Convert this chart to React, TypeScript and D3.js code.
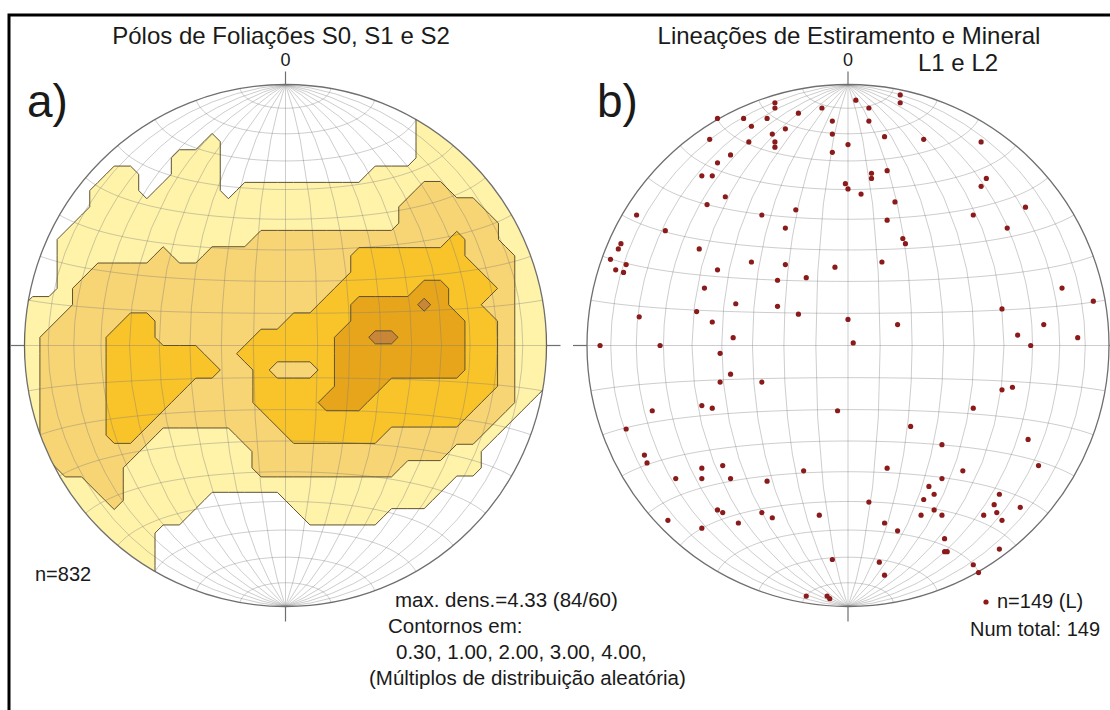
import React from 'react';
import * as d3 from 'd3';

const WIDTH = 1110;
const HEIGHT = 710;
const RADIUS = 261;
const CY = 345.5;
const LEFT_CX = 285.5;
const RIGHT_CX = 848;

// pole density of S0/S1/S2 (multiples of uniform distribution)
// digits index densityLevels
const densityLevels = [0, 0.6, 1.5, 2.5, 3.5, 4.33];
const contourThresholds = [0.3, 1, 2, 3, 4];
const contourColors = ['#fff2a9', '#f7d474', '#f9c32a', '#e7a51b', '#c98637'];
const densityRows = [
  '00000000000000000000000011111111',
  '00000000000000000000000011111111',
  '00000000000000000000000011111111',
  '00000000000100000000000011111111',
  '00000000011100000000000011111111',
  '00000110011100000000011111111111',
  '00001110111101111111111122111111',
  '00001111111111111111111222221111',
  '00011111111111111111111222222111',
  '00111111111111222222222222322111',
  '00111111211222222222333333322211',
  '00112222222222222222333333332211',
  '00122222222222222223333344333211',
  '11122222222222222233444454332211',
  '11222233222222223333444444433211',
  '12222333222222333334455444433211',
  '12222333333223333334444444433211',
  '12222333333322322234444444433211',
  '12222333332222333334443333333211',
  '12222333322222333344433333332210',
  '12222333222222233333333333322100',
  '12222332111112223333332222221000',
  '12222221111111222222222222110000',
  '11222211111111222222222111110000',
  '11112211111111111111111111000000',
  '11111211111000001111111110000000',
  '11111111110000000111110000000000',
  '11111111000000000000000000000000',
  '11111111000000000000000000000000',
  '11111111000000000000000000000000',
  '11111111000000000000000000000000',
  '11111111000000000000000000000000',
];

// lineations L1/L2, position on the net (east, north; unit = net radius)
const lineE = [
  -0.28, -0.28, 0.03, 0.2, 0.2, 0.08, -0.5, -0.4, -0.37, -0.31, -0.19, -0.1, -0.06, 0.08, -0.29, -0.24,
  -0.06, -0.53, -0.38, -0.28, -0.28, 0.14, 0.29, 0.51, 0.0, -0.06, -0.45, -0.5, -0.56, -0.52, 0.09, 0.15,
  0.09, -0.01, 0.0, 0.05, 0.53, 0.51, -0.47, -0.54, 0.18, 0.68, -0.81, -0.33, -0.2, 0.48, 0.15, -0.7,
  -0.24, 0.61, 0.21, 0.22, -0.87, -0.88, -0.57, -0.91, -0.85, -0.89, -0.86, -0.37, -0.24, -0.05, 0.13, -0.5,
  -0.16, -0.27, -0.55, 0.82, -0.43, -0.27, 0.94, -0.8, -0.58, -0.52, -0.19, 0.59, 0.0, 0.19, 0.75, 0.65,
  0.88, -0.44, -0.95, -0.72, 0.02, 0.7, -0.49, -0.45, -0.49, -0.33, 0.59, 0.63, -0.75, -0.56, -0.52, -0.04,
  0.48, -0.85, 0.24, 0.69, 0.36, -0.78, -0.77, -0.56, -0.48, -0.17, 0.15, 0.44, 0.73, -0.66, -0.56, -0.45,
  -0.31, 0.36, 0.31, 0.33, 0.29, 0.08, 0.58, 0.56, 0.66, -0.5, -0.48, -0.33, -0.29, -0.11, 0.33, 0.36,
  0.28, 0.52, 0.57, 0.59, -0.69, -0.56, -0.42, 0.14, 0.19, 0.37, 0.58, -0.06, 0.37, 0.38, 0.12, 0.14,
  0.48, 0.5, -0.16, -0.08, -0.07,
];
const lineN = [
  0.93, 0.91, 0.94, 0.93, 0.96, 0.91, 0.87, 0.87, 0.84, 0.87, 0.89, 0.91, 0.86, 0.86, 0.81, 0.83,
  0.81, 0.79, 0.78, 0.78, 0.76, 0.8, 0.79, 0.78, 0.77, 0.74, 0.73, 0.7, 0.65, 0.65, 0.66, 0.67,
  0.64, 0.62, 0.6, 0.58, 0.64, 0.61, 0.57, 0.54, 0.55, 0.53, 0.5, 0.5, 0.52, 0.5, 0.48, 0.44,
  0.45, 0.45, 0.41, 0.39, 0.39, 0.37, 0.37, 0.33, 0.31, 0.29, 0.28, 0.32, 0.31, 0.3, 0.32, 0.29,
  0.26, 0.25, 0.22, 0.22, 0.16, 0.15, 0.17, 0.11, 0.13, 0.09, 0.12, 0.14, 0.1, 0.08, 0.08, 0.04,
  0.03, 0.03, 0.0, 0.0, 0.01, 0.0, -0.03, -0.11, -0.14, -0.14, -0.17, -0.16, -0.25, -0.23, -0.24, -0.25,
  -0.24, -0.32, -0.31, -0.36, -0.38, -0.42, -0.45, -0.47, -0.46, -0.48, -0.47, -0.48, -0.46, -0.51, -0.51, -0.51,
  -0.52, -0.51, -0.54, -0.57, -0.59, -0.6, -0.57, -0.61, -0.62, -0.63, -0.64, -0.64, -0.66, -0.65, -0.63, -0.65,
  -0.65, -0.65, -0.64, -0.67, -0.67, -0.7, -0.68, -0.68, -0.71, -0.74, -0.78, -0.82, -0.79, -0.79, -0.83, -0.88,
  -0.84, -0.87, -0.96, -0.96, -0.97,
];

const gridStep = 10;
const FONT = '"Liberation Sans", Arial, Helvetica, sans-serif';

function netGrid(cx: number) {
  const projection = d3
    .geoAzimuthalEqualArea()
    .rotate([0, 0])
    .scale(RADIUS / Math.SQRT2)
    .translate([cx, CY]);
  const lons = d3.range(-90 + gridStep, 90, gridStep);
  const lats = d3.range(-90 + gridStep, 90, gridStep);
  const grid: any = {
    type: 'MultiLineString',
    coordinates: [
      ...lons.map((lon) => [[lon, -90], [lon, 0], [lon, 90]]),
      ...lats.map((lat) => d3.range(-90, 90.01, 2).map((lon) => [lon, lat])),
    ],
  };
  return d3.geoPath(projection)(grid) || '';
}

function NetFrame({ cx }: { cx: number }) {
  return (
    <g>
      <path d={netGrid(cx)} fill="none" stroke="#7a7a7a" strokeOpacity={0.42} strokeWidth={0.9} />
      <circle cx={cx} cy={CY} r={RADIUS} fill="none" stroke="#6f6f6f" strokeWidth={1.3} />
      <g stroke="#6f6f6f" strokeWidth={1.2}>
        <line x1={cx} x2={cx} y1={CY - RADIUS - 13} y2={CY - RADIUS} />
        <line x1={cx} x2={cx} y1={CY + RADIUS} y2={CY + RADIUS + 15} />
        <line x1={cx - RADIUS - 14} x2={cx - RADIUS} y1={CY} y2={CY} />
        <line x1={cx + RADIUS} x2={cx + RADIUS + 14} y1={CY} y2={CY} />
      </g>
      <text x={cx} y={66} textAnchor="middle" fontSize={18}>0</text>
    </g>
  );
}

function DensityNet() {
  const n = densityRows.length;
  const values = densityRows.flatMap((row) => row.split('').map((c) => densityLevels[+c]));
  const contours = d3.contours().size([n, n]).thresholds(contourThresholds)(values);
  const gx = d3.scaleLinear().domain([0, n]).range([LEFT_CX - RADIUS, LEFT_CX + RADIUS]);
  const gy = d3.scaleLinear().domain([0, n]).range([CY - RADIUS, CY + RADIUS]);
  const path = d3.geoPath(
    d3.geoTransform({
      point(x: number, y: number) {
        (this as any).stream.point(gx(x), gy(y));
      },
    })
  );
  return (
    <g>
      <clipPath id="clipA">
        <circle cx={LEFT_CX} cy={CY} r={RADIUS} />
      </clipPath>
      <g clipPath="url(#clipA)">
        {contours.map((c, i) => (
          <path key={i} d={path(c as any) || ''} fill={contourColors[i]} stroke="none" />
        ))}
      </g>
      <NetFrame cx={LEFT_CX} />
      <g clipPath="url(#clipA)">
        {contours.map((c, i) => (
          <path key={i} d={path(c as any) || ''} fill="none" stroke="#5f5230" strokeWidth={1} />
        ))}
      </g>
    </g>
  );
}

function LineationNet() {
  const x = d3.scaleLinear().domain([-1, 1]).range([RIGHT_CX - RADIUS, RIGHT_CX + RADIUS]);
  const y = d3.scaleLinear().domain([-1, 1]).range([CY + RADIUS, CY - RADIUS]);
  return (
    <g>
      <NetFrame cx={RIGHT_CX} />
      {lineE.map((e, i) => (
        <circle key={i} cx={x(e)} cy={y(lineN[i])} r={2.6} fill="#8b1a1a" />
      ))}
    </g>
  );
}

export default function App() {
  return (
    <svg
      width={WIDTH}
      height={HEIGHT}
      style={{ position: 'absolute', left: 0, top: 0, background: '#fff' }}
      fontFamily={FONT}
      fill="#1a1a1a"
    >
      <rect x={0} y={0} width={WIDTH} height={HEIGHT} fill="#fff" />
      <path d={`M9,${HEIGHT + 5} V15 H${WIDTH + 5}`} fill="none" stroke="#000" strokeWidth={3} />

      <DensityNet />
      <LineationNet />

      <text x={281} y={44} textAnchor="middle" fontSize={24}>Pólos de Foliações S0, S1 e S2</text>
      <text x={849} y={44} textAnchor="middle" fontSize={24}>Lineações de Estiramento e Mineral</text>
      <text x={918} y={71} fontSize={24}>L1 e L2</text>
      <text x={27} y={117} fontSize={46}>a)</text>
      <text x={597} y={117} fontSize={46}>b)</text>

      <text x={35} y={581} fontSize={20}>n=832</text>
      <text x={395} y={607} fontSize={20.5}>max. dens.=4.33 (84/60)</text>
      <text x={388} y={633} fontSize={20.5}>Contornos em:</text>
      <text x={396} y={659} fontSize={20.5}>0.30, 1.00, 2.00, 3.00, 4.00,</text>
      <text x={369} y={685} fontSize={20.5}>(Múltiplos de distribuição aleatória)</text>

      <circle cx={986} cy={602} r={2.6} fill="#8b1a1a" />
      <text x={997} y={608} fontSize={20}>n=149 (L)</text>
      <text x={970} y={636} fontSize={20}>Num total: 149</text>
    </svg>
  );
}
